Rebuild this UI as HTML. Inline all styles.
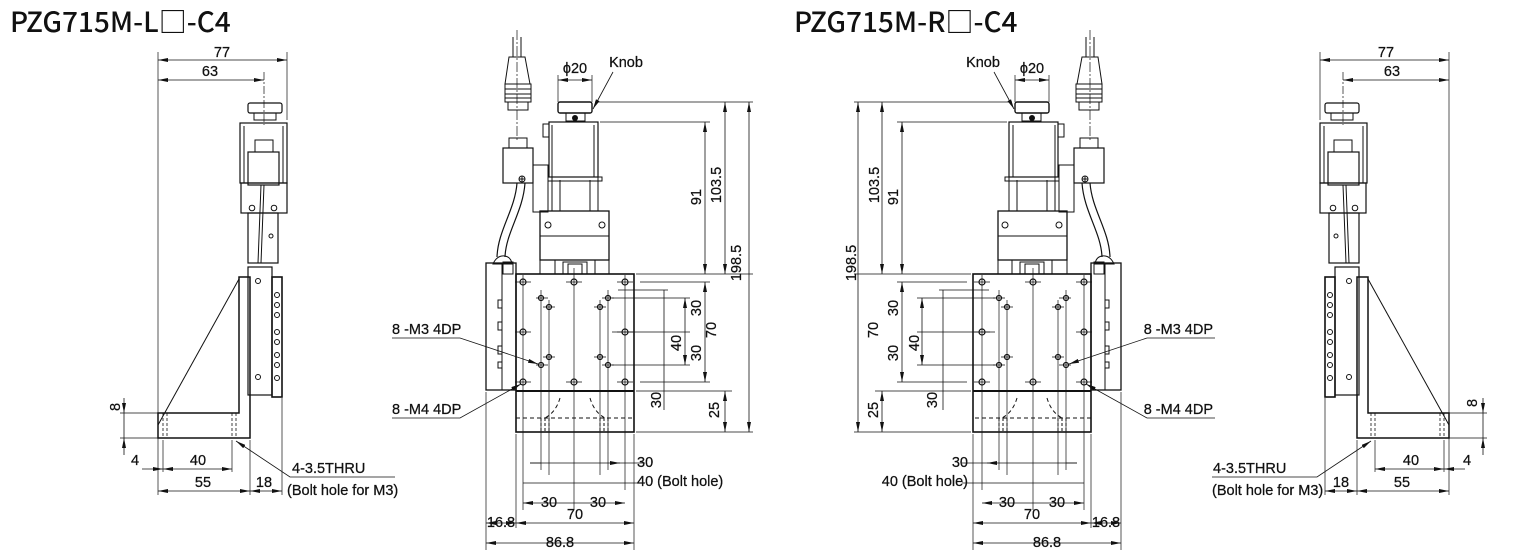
<!DOCTYPE html>
<html><head><meta charset="utf-8"><style>
html,body{margin:0;padding:0;background:#fff;}
svg{display:block;}
text{font-family:"Liberation Sans Narrow","Liberation Sans",sans-serif;fill:#111;font-size:14.5px;stroke:#111;stroke-width:0.25px;}
.t{font-family:"Noto Sans CJK JP","Liberation Sans",sans-serif;font-size:28px;font-weight:500;stroke:none;}
</style></head><body>
<svg width="1531" height="560" viewBox="0 0 1531 560" xmlns="http://www.w3.org/2000/svg">
<defs>
<marker id="a" viewBox="0 0 10 4" refX="10" refY="2" markerWidth="10" markerHeight="4" orient="auto-start-reverse" markerUnits="userSpaceOnUse"><path d="M0,0 L10,2 L0,4 Z" fill="#111"/></marker>
<g id="L" fill="none" stroke="#111" stroke-width="1">
 <rect x="516" y="274" width="118" height="158" stroke-width="1.6"/>
 <line x1="516" y1="391" x2="634" y2="391" stroke-width="2"/>
 <line x1="516" y1="418" x2="634" y2="418" stroke-dasharray="4 3"/>
 <path d="M541,418V432M545,418V432M549,418V432M600,418V432M604,418V432M608,418V432" stroke-dasharray="3 2"/>
 <path d="M560,398 Q556,412 545,418M590,398 Q594,412 605,418" stroke-dasharray="4 3"/>
 <path d="M574,268V510M541,290V470M549,300V475M600,300V475M608,290V470M523,275V510M625,275V490" stroke-width="0.7"/>
 <g stroke-width="1.2">
  <circle cx="523" cy="282" r="3"/><circle cx="574" cy="282" r="3"/><circle cx="625" cy="282" r="3"/>
  <circle cx="523" cy="332" r="3"/><circle cx="625" cy="332" r="3"/>
  <circle cx="523" cy="382" r="3"/><circle cx="574" cy="382" r="3"/><circle cx="625" cy="382" r="3"/>
  <circle cx="541" cy="298" r="2.5"/><circle cx="549" cy="307" r="2.5"/><circle cx="608" cy="298" r="2.5"/><circle cx="600" cy="307" r="2.5"/>
  <circle cx="549" cy="357" r="2.5"/><circle cx="541" cy="365" r="2.5"/><circle cx="600" cy="357" r="2.5"/><circle cx="608" cy="365" r="2.5"/>
 </g>
 <path d="M515,282H531M566,282H582M617,282H633M515,332H531M617,332H633M515,382H531M566,382H582M617,382H633M536,298H548M543,307H555M602,298H614M594,307H606M543,357H555M536,365H548M594,357H606M602,365H614" stroke-width="0.7"/>
 <rect x="486" y="263" width="30" height="127" stroke-width="1.3"/>
 <line x1="502" y1="263" x2="502" y2="390"/>
 <path d="M498,300h4v8h-4zM498,322h4v8h-4zM498,346h4v8h-4zM498,362h4v6h-4z"/>
 <path d="M493,264 Q497,255 505,256 Q511,257 512,264 Z" stroke-width="1"/>
 <rect x="503" y="262" width="10" height="12"/>
 <rect x="540" y="211" width="69" height="49" stroke-width="1.3"/>
 <line x1="540" y1="236" x2="609" y2="236"/>
 <circle cx="548" cy="225" r="3"/><circle cx="602" cy="225" r="3"/>
 <path d="M540,260V274M609,260V274M555,260V274M595,260V274"/>
 <rect x="563" y="262" width="24" height="12"/>
 <rect x="568" y="264" width="14" height="10"/>
 <rect x="552" y="177" width="46" height="34"/>
 <path d="M560,180V211M590,180V211M548,177H602V181H548Z"/>
 <rect x="549" y="122" width="49" height="55" stroke-width="1.2"/>
 <path d="M552,125V177M594,125V177M543,124h6v13h-6z"/>
 <rect x="558" y="102" width="34" height="11" rx="2" stroke-width="1.4"/>
 <rect x="566" y="113" width="19" height="8"/>
 <circle cx="575" cy="118" r="2.5" fill="#111"/>
 <path d="M517,30V140" stroke-dasharray="10 2 2 2" stroke-width="0.7"/>
 <path d="M513,37V57M521,37V57"/>
 <path d="M509,57H525L530,84H505Z"/>
 <rect x="505" y="84" width="26" height="18"/>
 <path d="M505,89H531M505,94H531M505,98H531"/>
 <rect x="508" y="102" width="20" height="8"/>
 <rect x="509" y="138" width="18" height="10"/>
 <rect x="503" y="148" width="30" height="35" stroke-width="1.2"/>
 <circle cx="522" cy="179" r="3"/><path d="M519,179h6M522,176v6"/>
 <rect x="533" y="165" width="15" height="47"/>
 <path d="M517,183 C515,210 498,230 497,257M525,183 C523,212 506,232 505,257" stroke-width="1.2"/>
 <path d="M558,75V102M592,75V102" stroke-width="0.7"/>
 <line x1="558" y1="80" x2="592" y2="80" marker-start="url(#a)" marker-end="url(#a)" stroke-width="0.8"/>
 <path d="M613,72 L593,109" stroke-width="0.8" marker-end="url(#a)"/>
 <path d="M595,102H753M600,122H710M636,274H753M640,282H710M640,382H710M636,391H732M636,432H753M612,298H690M612,365H690M618,290H668M612,332H690" stroke-width="0.7"/>
 <line x1="749" y1="102" x2="749" y2="432" marker-start="url(#a)" marker-end="url(#a)" stroke-width="0.8"/>
 <line x1="725" y1="102" x2="725" y2="274" marker-start="url(#a)" marker-end="url(#a)" stroke-width="0.8"/>
 <line x1="725" y1="391" x2="725" y2="432" marker-start="url(#a)" marker-end="url(#a)" stroke-width="0.8"/>
 <line x1="705" y1="122" x2="705" y2="274" marker-start="url(#a)" marker-end="url(#a)" stroke-width="0.8"/>
 <line x1="705" y1="282" x2="705" y2="382" marker-start="url(#a)" marker-end="url(#a)" stroke-width="0.8"/>
 <line x1="685" y1="298" x2="685" y2="365" marker-start="url(#a)" marker-end="url(#a)" stroke-width="0.8"/>
 <line x1="664" y1="290" x2="664" y2="410" stroke-width="0.8"/>
 <path d="M392,338H460L538,364" stroke-width="0.8" marker-end="url(#a)"/>
 <path d="M392,418H460L521,384" stroke-width="0.8" marker-end="url(#a)"/>
 <path d="M486,392V550M516,434V528M634,434V550" stroke-width="0.7"/>
 <line x1="530" y1="463" x2="645" y2="463" stroke-width="0.8"/>
 <path d="M530,463h11M610,463h10" marker-end="url(#a)" stroke-width="0.8"/>
 <line x1="523" y1="483" x2="645" y2="483" stroke-width="0.8"/>
 <line x1="523" y1="503" x2="625" y2="503" marker-start="url(#a)" marker-end="url(#a)" stroke-width="0.8"/>
 <line x1="516" y1="523" x2="634" y2="523" marker-start="url(#a)" marker-end="url(#a)" stroke-width="0.8"/>
 <line x1="486" y1="523" x2="516" y2="523" marker-start="url(#a)" marker-end="url(#a)" stroke-width="0.8"/>
 <line x1="486" y1="543" x2="634" y2="543" marker-start="url(#a)" marker-end="url(#a)" stroke-width="0.8"/>
 <path d="M158,52V440M287,52V120" stroke-width="0.7"/>
 <path d="M264,72V125" stroke-dasharray="8 2 2 2" stroke-width="0.7"/>
 <line x1="158" y1="60" x2="287" y2="60" marker-start="url(#a)" marker-end="url(#a)" stroke-width="0.8"/>
 <line x1="158" y1="80" x2="264" y2="80" marker-start="url(#a)" marker-end="url(#a)" stroke-width="0.8"/>
 <rect x="248" y="103" width="34" height="10" rx="2" stroke-width="1.2"/>
 <rect x="254" y="113" width="22" height="7"/>
 <rect x="240" y="123" width="47" height="60" stroke-width="1.2"/>
 <path d="M244,126V183M283,126V183"/>
 <rect x="241" y="183" width="46" height="30" stroke-width="1.2"/>
 <rect x="248" y="152" width="31" height="33" stroke-width="1.2"/>
 <rect x="255" y="140" width="18" height="12"/>
 <circle cx="252" cy="208" r="2.8"/><circle cx="274" cy="208" r="2.8"/>
 <rect x="248" y="213" width="30" height="50" stroke-width="1.2"/>
 <circle cx="271" cy="236" r="2"/>
 <path d="M261,185L258,263M264,185L261,263"/>
 <rect x="248" y="267" width="24" height="128" stroke-width="1.2"/>
 <rect x="272" y="277" width="10" height="120" stroke-width="1.6"/>
 <circle cx="258" cy="281" r="2.5"/><circle cx="258" cy="377" r="2.5"/>
 <circle cx="277" cy="295" r="2.5"/><circle cx="277" cy="305" r="2.5"/><circle cx="277" cy="315" r="2.5"/><circle cx="277" cy="332" r="2.5"/><circle cx="277" cy="342" r="2.5"/><circle cx="277" cy="355" r="2.5"/><circle cx="277" cy="365" r="2.5"/><circle cx="277" cy="378" r="2.5"/>
 <path d="M239,277H250V438H158V413H239Z" stroke-width="1.5"/>
 <line x1="239" y1="279" x2="158" y2="425"/>
 <path d="M163,413V438M167,413V438M232,413V438M236,413V438" stroke-dasharray="3 2" stroke-width="0.8"/>
 <path d="M120,413H158M120,438H158M163,440V472M232,440V472M250,440V495M158,440V495M282,398V495" stroke-width="0.7"/>
 <line x1="124" y1="398" x2="124" y2="413" marker-end="url(#a)" stroke-width="0.8"/>
 <line x1="124" y1="455" x2="124" y2="438" marker-end="url(#a)" stroke-width="0.8"/>
 <line x1="124" y1="413" x2="124" y2="438" stroke-width="0.8"/>
 <line x1="142" y1="469" x2="163" y2="469" marker-end="url(#a)" stroke-width="0.8"/>
 <line x1="163" y1="469" x2="232" y2="469" marker-start="url(#a)" marker-end="url(#a)" stroke-width="0.8"/>
 <line x1="158" y1="491" x2="250" y2="491" marker-start="url(#a)" marker-end="url(#a)" stroke-width="0.8"/>
 <line x1="250" y1="491" x2="282" y2="491" marker-start="url(#a)" marker-end="url(#a)" stroke-width="0.8"/>
 <path d="M395,477H290L236,441" stroke-width="0.8" marker-end="url(#a)"/>
</g>
</defs>
<use href="#L"/>
<use href="#L" transform="translate(1607,0) scale(-1,1)"/>

<text class="t" x="10" y="32">PZG715M-L□-C4</text>
<text class="t" x="794" y="32">PZG715M-R□-C4</text>

<g text-anchor="middle">
<text x="222" y="57">77</text><text x="210" y="76">63</text>
<text x="135" y="465">4</text><text x="198" y="465">40</text><text x="203" y="487">55</text><text x="264" y="487">18</text>
<text transform="translate(120,407) rotate(-90)">8</text>
<text x="626" y="67">Knob</text><text x="575" y="73">ϕ20</text>
<text transform="translate(701,197) rotate(-90)">91</text>
<text transform="translate(721,185) rotate(-90)">103.5</text>
<text transform="translate(741,263) rotate(-90)">198.5</text>
<text transform="translate(701,308) rotate(-90)">30</text>
<text transform="translate(716,330) rotate(-90)">70</text>
<text transform="translate(681,343) rotate(-90)">40</text>
<text transform="translate(701,353) rotate(-90)">30</text>
<text transform="translate(661,400) rotate(-90)">30</text>
<text transform="translate(719,410) rotate(-90)">25</text>
<text x="549" y="507">30</text><text x="598" y="507">30</text><text x="575" y="519">70</text>
<text x="501" y="527">16.8</text><text x="560" y="547">86.8</text>
<text x="983" y="67">Knob</text><text x="1032" y="73">ϕ20</text>
<text transform="translate(898,197) rotate(-90)">91</text>
<text transform="translate(879,185) rotate(-90)">103.5</text>
<text transform="translate(856,263) rotate(-90)">198.5</text>
<text transform="translate(898,308) rotate(-90)">30</text>
<text transform="translate(878,330) rotate(-90)">70</text>
<text transform="translate(919,343) rotate(-90)">40</text>
<text transform="translate(898,353) rotate(-90)">30</text>
<text transform="translate(937,400) rotate(-90)">30</text>
<text transform="translate(878,410) rotate(-90)">25</text>
<text x="1007" y="507">30</text><text x="1057" y="507">30</text><text x="1032" y="519">70</text>
<text x="1106" y="527">16.8</text><text x="1047" y="547">86.8</text>
<text x="1386" y="57">77</text><text x="1392" y="76">63</text>
<text x="1467" y="465">4</text><text x="1411" y="465">40</text><text x="1402" y="487">55</text><text x="1341" y="487">18</text>
<text transform="translate(1477,403) rotate(-90)">8</text>
</g>
<text x="392" y="334">8 -M3 4DP</text>
<text x="392" y="414">8 -M4 4DP</text>
<text x="637" y="467">30</text>
<text x="637" y="486">40 (Bolt hole)</text>
<text x="292" y="473">4-3.5THRU</text>
<text x="287" y="495">(Bolt hole for M3)</text>
<g text-anchor="end">
<text x="1213" y="334">8 -M3 4DP</text>
<text x="1213" y="414">8 -M4 4DP</text>
<text x="968" y="467">30</text>
<text x="968" y="486">40 (Bolt hole)</text>
</g>
<text x="1213" y="473">4-3.5THRU</text>
<text x="1212" y="495">(Bolt hole for M3)</text>
</svg>
</body></html>
